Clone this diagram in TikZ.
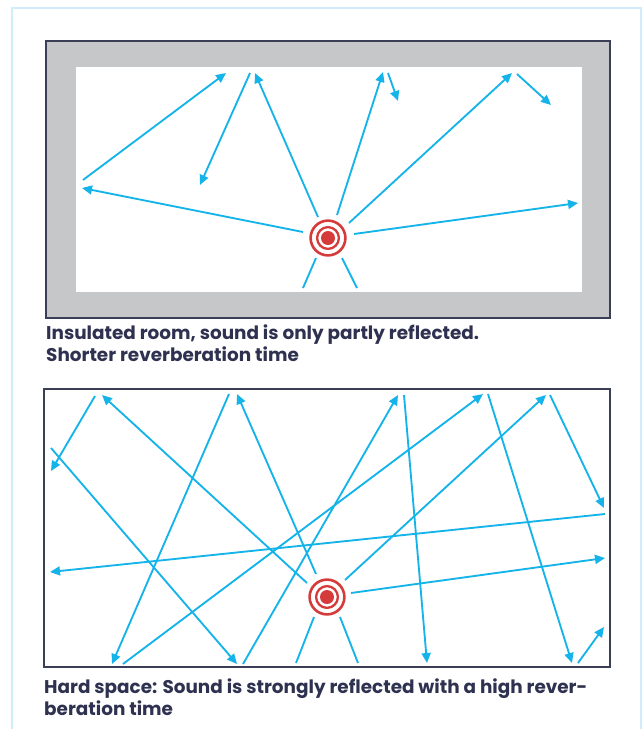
\documentclass[tikz,border=0pt]{standalone}
\usepackage{fontspec}
\setmainfont{Poppins}
\usetikzlibrary{arrows.meta}
\definecolor{ray}{HTML}{14B4EA}
\definecolor{wall}{HTML}{C6C7C9}
\definecolor{edge}{HTML}{3B3E57}
\definecolor{src}{HTML}{D63B3B}
\definecolor{frame}{HTML}{CDEEFA}
\definecolor{txt}{HTML}{2E3250}
\tikzset{
  rayline/.style={draw=ray, line width=1.85pt},
  rayarrow/.style={rayline, -{Triangle[length=10pt,width=9pt]}},
  caption/.style={anchor=base west, inner sep=0pt, text=txt, font=\bfseries\fontsize{18.4}{20}\selectfont},
}
\newcommand{\soundsource}[1]{%
  \draw[src, line width=2.6pt] (#1) circle[radius=17.4];
  \draw[src, line width=2.3pt] (#1) circle[radius=10.9];
  \fill[src] (#1) circle[radius=7];
}
\begin{document}
\begin{tikzpicture}[x=1pt,y=-1pt]
\useasboundingbox (0,0) rectangle (644,729);
\fill[white] (0,0) rectangle (644,729);
% outer light frame
\draw[frame, line width=2pt] (12,729) -- (12,7.5) -- (641,7.5) -- (641,729);

% ---------- top room ----------
\fill[wall] (46,41) rectangle (610,318);
\draw[edge, line width=1.3pt] (46,41) rectangle (610,318);
\fill[white] (76,67) rectangle (582,292);

\coordinate (s1) at (328,238);
\foreach \n/\x/\y in {t1a/83/180, t1b/226/73, t2a/250/73, t2b/200/185, t3a/318/217, t3b/255/73,
  t4a/303/232, t4b/82/188, t5a/316/258, t5b/303/288, t7a/337/215, t7b/383/72, t8a/388/73, t8b/398/101,
  t9a/349/223, t9b/512/73, t10a/517/74, t10b/551/105, t11a/354/234, t11b/578/203, t12a/342/258, t12b/357/288}
  {\coordinate (\n) at (\x,\y);}
\draw[rayarrow] (t1a) -- (t1b);
\draw[rayarrow] (t2a) -- (t2b);
\draw[rayarrow] (t3a) -- (t3b);
\draw[rayarrow] (t4a) -- (t4b);
\draw[rayline] (t5a) -- (t5b);
\draw[rayarrow] (t7a) -- (t7b);
\draw[rayarrow] (t8a) -- (t8b);
\draw[rayarrow] (t9a) -- (t9b);
\draw[rayarrow] (t10a) -- (t10b);
\draw[rayarrow] (t11a) -- (t11b);
\draw[rayline] (t12a) -- (t12b);
\soundsource{s1}

\node[caption] (cap1a) at (46,339) {Insulated room, sound is only partly reflected.};
\node[caption] (cap1b) at (46,361) {Shorter reverberation time};

% ---------- bottom room ----------
\draw[edge, line width=1.3pt] (44,389) rectangle (610,667);
\coordinate (s2) at (327,597);
\foreach \n/\x/\y in {a1/95/396, a2/51/471, b1/307/583, b2/102/395, c1/51/448, c2/237/664,
  d1/229/394, d2/112/664, e1/316/574, e2/237/394, f1/605/514, f2/50/572, g1/123/664, g2/483/394,
  h1/243/664, h2/398/395, i1/296/663, i2/314/617, j1/404/395, j2/427/663, k1/345/580, k2/546/395,
  l1/351/593, l2/605/558, m1/488/394, m2/572/663, n1/550/395, n2/604/508, o1/578/663, o2/604/627,
  p1/340/617, p2/358/663}
  {\coordinate (\n) at (\x,\y);}
\draw[rayarrow] (a1) -- (a2);
\draw[rayarrow] (b1) -- (b2);
\draw[rayarrow] (c1) -- (c2);
\draw[rayarrow] (d1) -- (d2);
\draw[rayarrow] (e1) -- (e2);
\draw[rayarrow] (f1) -- (f2);
\draw[rayarrow] (g1) -- (g2);
\draw[rayarrow] (h1) -- (h2);
\draw[rayline] (i1) -- (i2);
\draw[rayarrow] (j1) -- (j2);
\draw[rayarrow] (k1) -- (k2);
\draw[rayarrow] (l1) -- (l2);
\draw[rayarrow] (m1) -- (m2);
\draw[rayarrow] (n1) -- (n2);
\draw[rayarrow] (o1) -- (o2);
\draw[rayline] (p1) -- (p2);
\soundsource{s2}

\node[caption] (cap2a) at (44,693) {Hard space: Sound is strongly reflected with a high rever-};
\node[caption] (cap2b) at (44,715) {beration time};
\end{tikzpicture}
\end{document}
